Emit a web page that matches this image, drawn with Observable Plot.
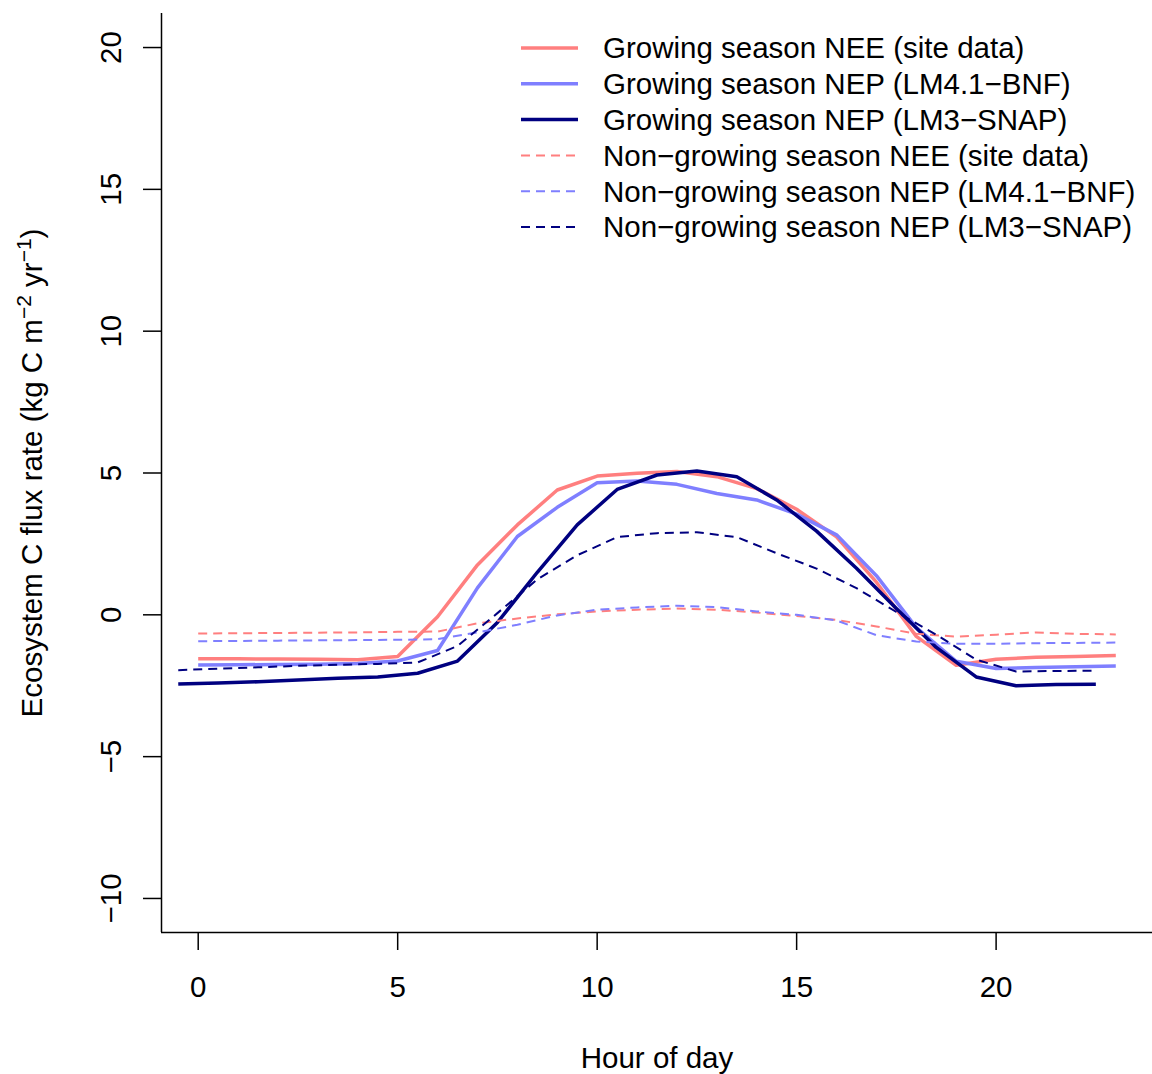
<!DOCTYPE html>
<html>
<head>
<meta charset="utf-8">
<script src="https://cdn.jsdelivr.net/npm/d3@7"></script>
<script src="https://cdn.jsdelivr.net/npm/@observablehq/plot@0.6"></script>
<style>
  html, body { margin: 0; padding: 0; background: #fff; }
  #chart { width: 1152px; height: 1074px; }
</style>
</head>
<body>
<div id="chart"></div>
<script>
// ---- Data ----
const siteHours = [0,1,2,3,4,5,6,7,8,9,10,11,12,13,14,15,16,17,18,19,20,21,22,23];
const lm3Hours = [-0.5,0.5,1.5,2.5,3.5,4.5,5.5,6.5,7.5,8.5,9.5,10.5,11.5,12.5,13.5,14.5,15.5,16.5,17.5,18.5,19.5,20.5,21.5,22.5];

const growNEEsite = [-1.55,-1.55,-1.56,-1.57,-1.58,-1.47,-0.07,1.76,3.17,4.40,4.89,4.99,5.05,4.87,4.45,3.72,2.75,1.15,-0.76,-1.78,-1.57,-1.50,-1.47,-1.43];
const growNEPlm4 = [-1.77,-1.76,-1.75,-1.74,-1.72,-1.63,-1.26,0.95,2.76,3.79,4.66,4.72,4.60,4.28,4.05,3.55,2.82,1.38,-0.45,-1.64,-1.89,-1.86,-1.83,-1.80];
const growNEPlm3 = [-2.44,-2.40,-2.36,-2.30,-2.24,-2.19,-2.06,-1.63,-0.27,1.50,3.17,4.42,4.93,5.07,4.87,4.05,2.95,1.64,0.22,-1.15,-2.19,-2.50,-2.46,-2.45];
const nonNEEsite = [-0.66,-0.65,-0.64,-0.63,-0.62,-0.60,-0.59,-0.30,-0.13,0.02,0.12,0.18,0.22,0.18,0.08,-0.04,-0.18,-0.41,-0.67,-0.77,-0.70,-0.62,-0.67,-0.69];
const nonNEPlm4 = [-0.93,-0.92,-0.91,-0.90,-0.89,-0.88,-0.86,-0.62,-0.35,-0.02,0.18,0.26,0.32,0.27,0.12,0.00,-0.20,-0.72,-0.94,-1.02,-1.02,-1.00,-0.99,-0.98];
const nonNEPlm3 = [-1.95,-1.90,-1.85,-1.80,-1.76,-1.73,-1.68,-1.10,0.06,1.25,2.10,2.74,2.88,2.91,2.74,2.17,1.63,0.94,0.10,-0.70,-1.58,-2.00,-1.98,-1.97];

const seriesNames = [
  "Growing season NEE (site data)",
  "Growing season NEP (LM4.1\u2212BNF)",
  "Growing season NEP (LM3\u2212SNAP)",
  "Non\u2212growing season NEE (site data)",
  "Non\u2212growing season NEP (LM4.1\u2212BNF)",
  "Non\u2212growing season NEP (LM3\u2212SNAP)"
];
const seriesColors = ["#ff7f7f", "#7f7fff", "#000080", "#ff7f7f", "#7f7fff", "#000080"];
const seriesDashed = [false, false, false, true, true, true];
const seriesX = [siteHours, siteHours, lm3Hours, siteHours, siteHours, lm3Hours];
const seriesY = [growNEEsite, growNEPlm4, growNEPlm3, nonNEEsite, nonNEPlm4, nonNEPlm3];

const xTicks = [0, 5, 10, 15, 20];
const yTicks = [-10, -5, 0, 5, 10, 15, 20];
const xTitle = "Hour of day";
const yTitle = "Ecosystem C flux rate (kg C m\u22122 yr\u22121)";

// ---- Build tables ----
const tables = seriesNames.map((name, i) =>
  seriesX[i].map((x, j) => ({ series: name, hour: x, flux: seriesY[i][j] }))
);

const xDomain = [-0.92, 23.92];
const yDomain = [-11.2, 21.2];
const FONT = "'Liberation Sans', Arial, Helvetica, sans-serif";
const DASH = "9,6";

const lineMarks = tables.map((data, i) =>
  Plot.line(data, {
    x: "hour", y: "flux",
    stroke: seriesColors[i],
    strokeWidth: seriesDashed[i] ? 2 : 3.5,
    strokeDasharray: seriesDashed[i] ? DASH : null,
    strokeLinecap: "butt",
    strokeLinejoin: "round"
  })
);

const svg = Plot.plot({
  width: 1152,
  height: 1074,
  marginTop: 13,
  marginRight: 0,
  marginBottom: 142,
  marginLeft: 161,
  style: { fontFamily: FONT, fontSize: "29.5px", color: "black", background: "white" },
  x: { domain: xDomain },
  y: { domain: yDomain },
  marks: [
    Plot.axisX({ ticks: xTicks, tickSize: 18, tickPadding: 26, label: null, strokeWidth: 1.5 }),
    Plot.axisY({ ticks: yTicks, tickSize: 18, tickPadding: 23, tickRotate: -90, label: null, strokeWidth: 1.5 }),
    Plot.ruleX([xDomain[0]], { strokeWidth: 1.5 }),
    Plot.ruleY([yDomain[0]], { strokeWidth: 1.5 }),
    ...lineMarks,
    Plot.text([xTitle], { text: d => d, frameAnchor: "bottom", dy: 126, lineAnchor: "middle", fill: "black" }),
    Plot.text([yTitle], { text: d => d, frameAnchor: "left", dx: -129, rotate: -90, textAnchor: "middle", lineAnchor: "middle", fill: "black", className: "ytitle" })
  ]
});

// superscripts in the y title
const yt = d3.select(svg).select(".ytitle text");
yt.text(null).attr("text-anchor", "middle");
yt.append("tspan").text("Ecosystem C flux rate (kg C m");
yt.append("tspan").attr("dy", -11).attr("font-size", "21px").text("\u22122");
yt.append("tspan").attr("dy", 11).text(" yr");
yt.append("tspan").attr("dy", -11).attr("font-size", "21px").text("\u22121");
yt.append("tspan").attr("dy", 11).text(")");

// legend (top right, inside plot area)
const leg = d3.select(svg).append("g")
  .attr("font-family", FONT).attr("font-size", "29.5px").attr("text-anchor", "start");
seriesNames.forEach((name, i) => {
  const cy = 48 + i * 35.8;
  leg.append("line")
    .attr("x1", 521).attr("x2", 578).attr("y1", cy).attr("y2", cy)
    .attr("stroke", seriesColors[i])
    .attr("stroke-width", seriesDashed[i] ? 2 : 3.5)
    .attr("stroke-dasharray", seriesDashed[i] ? DASH : null);
  leg.append("text")
    .attr("x", 603).attr("y", cy).attr("dy", "0.35em")
    .attr("text-anchor", "start")
    .attr("fill", "black")
    .text(name);
});

document.getElementById("chart").appendChild(svg);
</script>
</body>
</html>
